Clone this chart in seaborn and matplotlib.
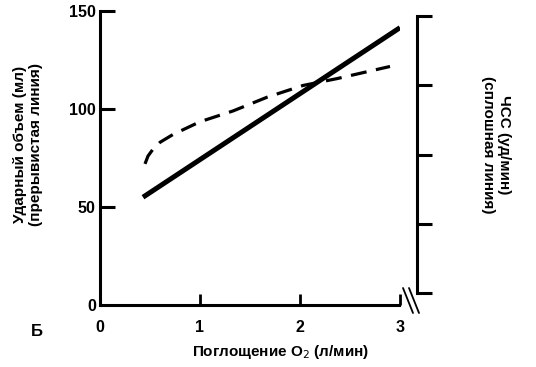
import pandas as pd
import seaborn as sns
import matplotlib.pyplot as plt
from matplotlib.lines import Line2D

# O2 uptake (l/min) vs stroke volume (dashed) and heart rate (solid, own scale)
hr_x = [0.43, 3.0]
hr_y = [55, 141.5]

sv_x = [0.45, 0.48, 0.53, 0.6, 0.73, 1.0, 1.33, 1.67, 2.03, 2.37, 2.9]
sv_y = [72, 76, 79.5, 83, 87, 93.5, 99, 106, 112, 115.5, 121.7]

x_ticks = [0, 1, 2, 3]
y_ticks = [0, 50, 100, 150]
right_ticks = [0, 1, 2, 3, 4]

sns.set_style("ticks")
plt.rcParams['font.family'] = ['Liberation Sans', 'DejaVu Sans']
plt.rcParams['text.color'] = 'black'
plt.rcParams['xtick.color'] = 'black'
plt.rcParams['ytick.color'] = 'black'
plt.rcParams['axes.edgecolor'] = 'black'

hr_df = pd.DataFrame({'x': hr_x, 'y': hr_y})
sv_df = pd.DataFrame({'x': sv_x, 'y': sv_y})

W, H = 536, 367
fig = plt.figure(figsize=(W / 100, H / 100), dpi=100)
ax = fig.add_axes([100 / W, 62 / H, 300 / W, 294 / H])

sns.lineplot(data=hr_df, x='x', y='y', ax=ax, color='black', lw=3.6,
             solid_capstyle='butt')
sns.lineplot(data=sv_df, x='x', y='y', ax=ax, color='black', lw=2.3,
             linestyle=(0, (5, 3)))

ax.set_xlim(0, 3)
ax.set_ylim(0, 150)
ax.set_xticks(x_ticks)
ax.set_yticks(y_ticks)
ax.set_xlabel('')
ax.set_ylabel('')
for s in ['top', 'right']:
    ax.spines[s].set_visible(False)
for s in ['left', 'bottom']:
    ax.spines[s].set_linewidth(2.2)
ax.spines['bottom'].set_bounds(0, 2.99)
ax.tick_params(axis='x', direction='in', length=8, width=2, pad=11,
               labelsize=11.5)
ax.tick_params(axis='y', direction='in', length=11, width=2.2, pad=3,
               labelsize=11.5)
for lab in ax.get_xticklabels() + ax.get_yticklabels():
    lab.set_fontweight('bold')
ax.get_xticklines()[0].set_visible(False)
ax.get_yticklines()[0].set_visible(False)

# separate heart-rate scale on the right
ax2 = fig.add_axes([417 / W, 74 / H, 0.001, 277 / H])
ax2.set_ylim(0, 4)
ax2.set_yticks(right_ticks)
ax2.set_xticks([])
ax2.set_yticklabels([])
for s in ['top', 'right', 'bottom']:
    ax2.spines[s].set_visible(False)
ax2.spines['left'].set_linewidth(2.2)
ax2.tick_params(axis='y', direction='in', length=11, width=2.2)
ax2.patch.set_visible(False)

# axis break marks
for dx in (0, 6):
    fig.add_artist(Line2D([(403 + dx) / W, (413 + dx) / W],
                          [(H - 288) / H, (H - 313) / H],
                          color='black', lw=1.3))

fig.text(28 / W, 1 - 144 / H, 'Ударный объем (мл)\n(прерывистая линия)',
         rotation=90, ha='center', va='center', fontsize=11,
         fontweight='bold', linespacing=1.1)
fig.text(496 / W, 1 - 145 / H, 'ЧСС (уд/мин)\n(сплошная линия)',
         rotation=-90, ha='center', va='center', fontsize=11,
         fontweight='bold', linespacing=1.1)
fig.text(281 / W, 1 - 352 / H, 'Поглощение O$_2$ (л/мин)',
         ha='center', va='center', fontsize=11, fontweight='bold')
fig.text(37 / W, 1 - 332 / H, 'Б', ha='center', va='center',
         fontsize=12, fontweight='bold')

fig.savefig('out.png', dpi=100)
plt.close()
